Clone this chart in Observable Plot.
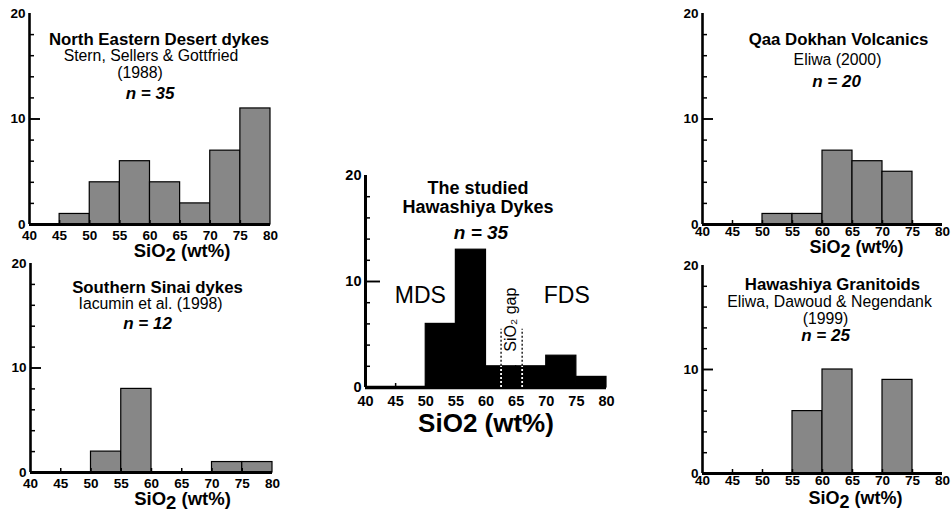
<!DOCTYPE html>
<html><head><meta charset="utf-8">
<script src="https://cdn.jsdelivr.net/npm/d3@7"></script>
<script src="https://cdn.jsdelivr.net/npm/@observablehq/plot@0.6"></script>
<style>
body{margin:0;background:#fff;}
#chart{position:relative;width:951px;height:512px;overflow:hidden;background:#fff;}
.panel{position:absolute;}
</style></head><body><div id="chart"></div>
<script>
// ---- data (counts per 5 wt% SiO2 bin) ----
const binStarts = [40, 45, 50, 55, 60, 65, 70, 75];
const binWidth = 5;
const northEasternDesert = [0, 1, 4, 6, 4, 2, 7, 11];
const southernSinai = [0, 0, 2, 8, 0, 0, 1, 1];
const hawashiyaDykes = [0, 0, 6, 13, 2, 2, 3, 1];
const qaaDokhan = [0, 0, 1, 1, 7, 6, 5, 0];
const hawashiyaGranitoids = [0, 0, 0, 6, 10, 0, 9, 0];

const xDomain = [40, 80];
const yDomain = [0, 20];
const xTicks = [40, 45, 50, 55, 60, 65, 70, 75, 80];
const xMinorTicks = [45, 50, 55, 60, 65, 70, 75];
const yLabelTicks = [0, 10, 20];
const yMinorTicks = [2, 4, 6, 8, 12, 14, 16, 18];
const yMajorTicks = [10];

// annotations of the studied dykes
const groupLabels = [{label: "MDS", x: 49.1, y: 8.7}, {label: "FDS", x: 73.4, y: 8.7}];
const gapBounds = [62.5, 66.0];
const gapTop = 5.5;
const gapLabel = {label: "SiO₂ gap", x: 64.1, y: 6.4};
const xLabel = "SiO2 (wt%)";

const FONT = "'Liberation Sans', Arial, Helvetica, sans-serif";

const panels = [
  {counts: northEasternDesert, left: 0, top: 0, width: 300, height: 256, ml: 29, mr: 30, mt: 13, mb: 32,
   fill: "#878787", tickFont: 13.5, tickPad: 6, axisW: 2.6, minorLen: 5, majorLen: 11, xLabelFont: 18.5, xLabelDx: 32, xLabelDy: 27, sub: true,
   lines: [
     {text: "North Eastern Desert dykes", dx: 9, dy: 26, size: 16.8, weight: "bold", style: "normal"},
     {text: "Stern, Sellers & Gottfried", dx: 1, dy: 42, size: 15.8, weight: "normal", style: "normal"},
     {text: "(1988)", dx: -10, dy: 59, size: 15.8, weight: "normal", style: "normal"},
     {text: "n = 35", dx: 0, dy: 80, size: 17, weight: "bold", style: "italic"}]},
  {counts: southernSinai, left: 0, top: 256, width: 300, height: 256, ml: 30, mr: 28, mt: 7, mb: 40,
   fill: "#878787", tickFont: 13.5, tickPad: 6, axisW: 2.6, minorLen: 5, majorLen: 11, xLabelFont: 18.5, xLabelDx: 31, xLabelDy: 27, sub: true,
   lines: [
     {text: "Southern Sinai dykes", dx: 6, dy: 24, size: 16.8, weight: "bold", style: "normal"},
     {text: "Iacumin et al. (1998)", dx: -1, dy: 40, size: 15.8, weight: "normal", style: "normal"},
     {text: "n = 12", dx: -4, dy: 60, size: 17, weight: "bold", style: "italic"}]},
  {counts: hawashiyaDykes, left: 330, top: 160, width: 300, height: 280, ml: 35, mr: 24, mt: 15, mb: 53,
   fill: "black", tickFont: 14.5, tickPad: 8, axisW: 3, minorLen: 5, majorLen: 15, xLabelFont: 26, xLabelDx: 0, xLabelDy: 36, sub: false,
   center: true,
   lines: [
     {text: "The studied", dx: -8, dy: 13, size: 18, weight: "bold", style: "normal"},
     {text: "Hawashiya Dykes", dx: -8, dy: 32, size: 18, weight: "bold", style: "normal"},
     {text: "n = 35", dx: -5, dy: 57, size: 19, weight: "bold", style: "italic"}]},
  {counts: qaaDokhan, left: 670, top: 0, width: 281, height: 256, ml: 32, mr: 9, mt: 13, mb: 32,
   fill: "#878787", tickFont: 13.5, tickPad: 2, axisW: 2.6, minorLen: 5, majorLen: 11, xLabelFont: 18, xLabelDx: 34, xLabelDy: 23, sub: true,
   lines: [
     {text: "Qaa Dokhan Volcanics", dx: 16, dy: 26, size: 16.8, weight: "bold", style: "normal"},
     {text: "Eliwa (2000)", dx: 15, dy: 46, size: 15.8, weight: "normal", style: "normal"},
     {text: "n = 20", dx: 14, dy: 68, size: 17, weight: "bold", style: "italic"}]},
  {counts: hawashiyaGranitoids, left: 670, top: 256, width: 281, height: 256, ml: 32, mr: 9, mt: 9, mb: 39,
   fill: "#878787", tickFont: 13.5, tickPad: 2, axisW: 2.6, minorLen: 5, majorLen: 11, xLabelFont: 18, xLabelDx: 33, xLabelDy: 25, sub: true,
   lines: [
     {text: "Hawashiya Granitoids", dx: 10, dy: 19, size: 16.8, weight: "bold", style: "normal"},
     {text: "Eliwa, Dawoud & Negendank", dx: 7, dy: 36, size: 15.8, weight: "normal", style: "normal"},
     {text: "(1999)", dx: 3, dy: 53, size: 15.8, weight: "normal", style: "normal"},
     {text: "n = 25", dx: 3, dy: 70, size: 17, weight: "bold", style: "italic"}]}
];

const chart = document.getElementById("chart");

for (const p of panels) {
  const bars = binStarts.map((x, i) => ({x1: x, x2: x + binWidth, count: p.counts[i]})).filter(d => d.count > 0);
  const marks = [
    Plot.rectY(bars, {x1: "x1", x2: "x2", y: "count", fill: p.fill, stroke: "black", strokeWidth: 1.2}),
    // y-axis ticks pointing inward (right)
    Plot.ruleY(yMinorTicks, {x1: () => xDomain[0], x2: () => xDomain[0], insetRight: -p.minorLen, stroke: "black", strokeWidth: 1.5}),
    Plot.ruleY(yMajorTicks, {x1: () => xDomain[0], x2: () => xDomain[0], insetRight: -p.majorLen, stroke: "black", strokeWidth: 1.9}),
    // x-axis ticks pointing inward (up)
    Plot.ruleX(xMinorTicks, {y1: () => yDomain[0], y2: () => yDomain[0], insetTop: -4, stroke: "black", strokeWidth: 1.5}),
    Plot.ruleX([xDomain[0]], {y1: yDomain[0], y2: yDomain[1], stroke: "black", strokeWidth: p.axisW}),
    Plot.ruleY([yDomain[0]], {x1: xDomain[0], x2: xDomain[1], stroke: "black", strokeWidth: p.axisW + 0.3}),
    Plot.axisY({ticks: yLabelTicks, tickSize: 0, tickPadding: 4, fontSize: p.tickFont, fontWeight: "bold", label: null, tickFormat: d3.format("d")}),
    Plot.axisX({ticks: xTicks, tickSize: 0, tickPadding: p.tickPad, fontSize: p.tickFont, fontWeight: "bold", label: null, tickFormat: d3.format("d")}),
    Plot.text([xLabel], {text: d => d, frameAnchor: "bottom", dx: p.xLabelDx, dy: p.xLabelDy, lineAnchor: "middle", fontSize: p.xLabelFont, fontWeight: "bold"}),
    ...p.lines.map(l => Plot.text([l.text], {text: d => d, frameAnchor: "top", dx: l.dx, dy: l.dy, lineAnchor: "middle", fontSize: l.size, fontWeight: l.weight, fontStyle: l.style}))
  ];
  if (p.center) {
    const gapBin = binStarts.findIndex(b => gapBounds[0] >= b && gapBounds[0] < b + binWidth);
    const barTop = p.counts[gapBin];
    marks.push(
      Plot.ruleX(gapBounds, {y1: yDomain[0], y2: barTop, stroke: "white", strokeWidth: 1.8, strokeDasharray: "2,2"}),
      Plot.ruleX(gapBounds, {y1: barTop, y2: gapTop, stroke: "black", strokeWidth: 1.3, strokeDasharray: "2,2"}),
      Plot.text(groupLabels, {x: "x", y: "y", text: "label", fontSize: 23, fontWeight: "normal"}),
      Plot.text([gapLabel], {x: "x", y: "y", text: "label", rotate: -90, fontSize: 16, fontWeight: "normal"})
    );
  }
  const svg = Plot.plot({
    width: p.width, height: p.height,
    marginLeft: p.ml, marginRight: p.mr, marginTop: p.mt, marginBottom: p.mb,
    x: {domain: xDomain},
    y: {domain: yDomain},
    style: {fontFamily: FONT, background: "transparent", overflow: "visible", color: "black"},
    marks
  });
  if (p.sub) {
    d3.select(svg).selectAll("text").filter(function () { return this.textContent === xLabel; })
      .each(function () {
        const t = d3.select(this);
        t.text("");
        t.append("tspan").text("SiO");
        t.append("tspan").attr("dy", "0.18em").text("2");
        t.append("tspan").attr("dy", "-0.18em").text(" (wt%)");
      });
  }
  const div = document.createElement("div");
  div.className = "panel";
  div.style.left = p.left + "px";
  div.style.top = p.top + "px";
  div.appendChild(svg);
  chart.appendChild(div);
}
</script></body></html>
